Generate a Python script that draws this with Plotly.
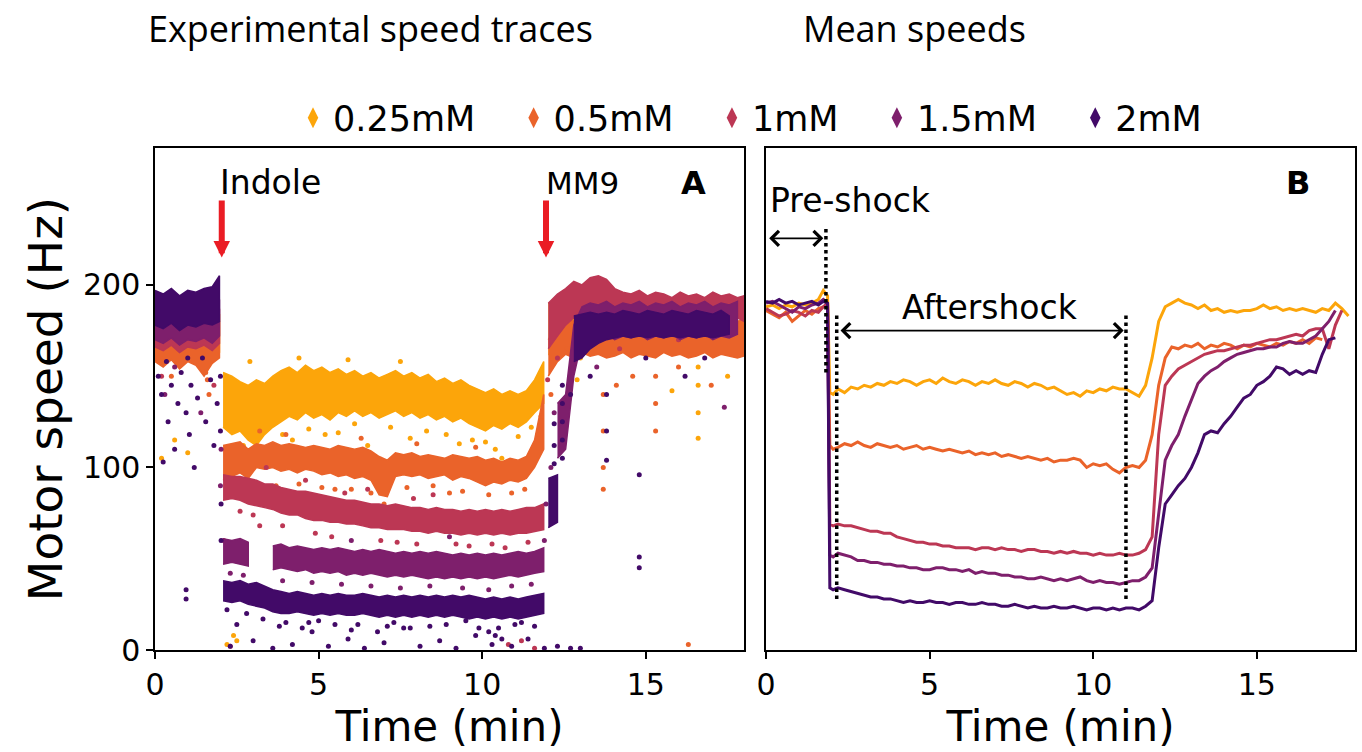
import plotly.graph_objects as go

# ---------------- data ----------------
SERIES = ["0.25mM", "0.5mM", "1mM", "1.5mM", "2mM"]
COLORS = ["#fca50a", "#ea632a", "#bc3754", "#7e1f6c", "#420a68"]

# Panel A: band envelopes, three time segments
TA_PRE = [0.0, 0.25, 0.5, 0.75, 1.0, 1.25, 1.5, 1.75, 1.97]
TA_SHOCK = [2.08, 2.35, 2.6, 2.85, 3.1, 3.35, 3.6, 3.85, 4.1, 4.35, 4.6, 4.85, 5.1, 5.35,
            5.6, 5.85, 6.1, 6.35, 6.6, 6.85, 7.1, 7.35, 7.6, 7.85, 8.1, 8.35, 8.6, 8.85,
            9.1, 9.35, 9.6, 9.85, 10.1, 10.35, 10.6, 10.85, 11.1, 11.35, 11.6, 11.88]
TA_REC = [12.02, 12.3, 12.55, 12.8, 13.05, 13.3, 13.55, 13.8, 14.05, 14.3, 14.55, 14.8,
          15.05, 15.3, 15.55, 15.8, 16.05, 16.3, 16.55, 16.8, 17.05, 17.3, 17.55, 17.8, 18.0]

A025_PRE_HI = [182, 180, 183, 179, 182, 180, 183, 181, 184]
A025_PRE_LO = [162, 160, 163, 158, 161, 160, 162, 159, 163]
A025_SHOCK_HI = [152, 150, 147, 145, 148, 146, 150, 153, 155, 152, 156, 153, 155, 152, 154, 151, 153, 150, 152, 149,
                 151, 153, 150, 152, 149, 151, 147, 149, 146, 148, 145, 143, 141, 143, 140, 142, 140, 142, 148, 158]
A025_SHOCK_LO = [122, 118, 120, 115, 112, 118, 122, 125, 128, 126, 130, 127, 129, 126, 130, 128, 131, 128, 130, 127,
                 129, 131, 128, 130, 127, 129, 126, 128, 125, 127, 124, 122, 120, 123, 121, 124, 122, 125, 130, 135]
A025_REC_HI = [190, 188, 186, 183, 182, 184, 181, 183, 180, 182, 179, 181, 178, 180, 182, 179, 181, 178, 180, 182,
               179, 181, 183, 180, 181]
A025_REC_LO = [162, 160, 163, 165, 166, 164, 167, 165, 166, 164, 167, 165, 166, 164, 167, 165, 166, 164, 167, 165,
               166, 164, 167, 165, 166]

A05_PRE_HI = [178, 176, 179, 175, 178, 177, 179, 176, 180]
A05_PRE_LO = [158, 155, 159, 154, 158, 156, 150, 157, 160]
A05_SHOCK_HI = [112, 113, 114, 110, 113, 112, 114, 112, 113, 112, 111, 112, 111, 110, 112, 111, 110, 111, 109, 106,
                104, 108, 107, 108, 106, 107, 106, 105, 107, 106, 105, 106, 104, 105, 103, 105, 104, 106, 115, 140]
A05_SHOCK_LO = [93, 95, 97, 94, 100, 99, 100, 98, 99, 97, 99, 98, 96, 97, 95, 96, 94, 95, 93, 85,
                84, 95, 96, 95, 96, 94, 95, 96, 93, 95, 94, 92, 90, 92, 91, 93, 92, 94, 100, 110]
A05_REC_HI = [170, 178, 182, 180, 183, 181, 184, 182, 180, 183, 181, 184, 182, 180, 183, 181, 184, 182, 180, 183,
              181, 184, 182, 180, 181]
A05_REC_LO = [150, 158, 162, 160, 163, 161, 162, 160, 161, 163, 160, 162, 161, 160, 163, 161, 162, 160, 161, 163,
              160, 162, 161, 160, 161]

A1_PRE_HI = [185, 183, 186, 182, 185, 184, 186, 183, 187]
A1_PRE_LO = [166, 164, 167, 163, 166, 165, 167, 164, 168]
A1_SHOCK_HI = [96, 95, 95, 94, 93, 91, 91, 89, 88, 87, 87, 86, 85, 84, 83, 82, 82, 81, 80, 80,
               79, 80, 79, 78, 78, 77, 78, 77, 77, 76, 77, 76, 77, 76, 77, 76, 77, 78, 78, 80]
A1_SHOCK_LO = [82, 83, 82, 80, 79, 78, 77, 75, 74, 74, 72, 71, 71, 70, 70, 69, 69, 68, 67, 67,
               66, 66, 66, 65, 65, 64, 65, 64, 64, 63, 64, 63, 64, 63, 64, 63, 64, 64, 65, 66]
A1_REC_HI = [190, 195, 198, 202, 200, 204, 205, 203, 198, 196, 195, 197, 194, 196, 195, 193, 196, 194, 195, 193,
             196, 194, 195, 193, 194]
A1_REC_LO = [165, 172, 178, 182, 180, 183, 184, 182, 180, 181, 180, 182, 180, 181, 180, 182, 180, 181, 180, 182,
             180, 181, 180, 182, 180]

A15_PRE_HI = [190, 188, 191, 187, 190, 189, 191, 188, 192]
A15_PRE_LO = [170, 168, 171, 167, 170, 169, 171, 168, 172]
A15_SHOCK_HI = [61, 60, 61, 59, None, None, 57, 58, 56, 57, 56, 55, 56, 55, 56, 55, 54, 55, 54, 55,
                54, 53, 54, 53, 54, 53, 54, 53, 52, 53, 52, 53, 52, 53, 52, 53, 54, 53, 54, 56]
A15_SHOCK_LO = [47, 48, 47, 46, None, None, 44, 45, 44, 43, 44, 42, 43, 42, 43, 41, 42, 41, 42, 41,
                40, 41, 40, 41, 40, 39, 40, 39, 40, 39, 40, 39, 40, 39, 40, 41, 40, 41, 42, 43]
A15_REC_HI = [None, 135, 140, 178, 188, 190, 189, 191, 188, 190, 189, 191, 188, 190, 189, 191, 188, 190, 189, 191,
              188, 190, 189, 191, None]
A15_REC_LO = [None, 105, 110, 150, 170, 172, 171, 173, 170, 172, 171, 173, 170, 172, 171, 173, 170, 172, 171, 173,
              170, 172, 171, 173, None]

A2_PRE_HI = [197, 195, 198, 194, 197, 196, 198, 199, 205]
A2_PRE_LO = [178, 176, 179, 175, 178, 177, 179, 178, 180]
A2_SHOCK_HI = [38, 37, 38, 36, 37, 35, 33, 32, 31, 32, 31, 30, 31, 30, 31, 30, 30, 31, 30, 29,
               30, 29, 30, 29, 30, 29, 30, 29, 30, 29, 30, 29, 28, 29, 28, 29, 28, 29, 30, 31]
A2_SHOCK_LO = [27, 26, 27, 25, 24, 23, 21, 20, 20, 21, 20, 19, 20, 19, 20, 19, 19, 20, 19, 18,
               19, 18, 19, 18, 19, 18, 19, 18, 19, 18, 17, 18, 17, 18, 17, 18, 17, 18, 19, 20]
A2_REC_HI = [94, 96, None, 183, 184, 185, 184, 185, 184, 186, 185, 184, 186, 185, 184, 186, 185, 184, 186, 185,
             184, 186, 183, None, None]
A2_REC_LO = [67, 70, None, 158, 160, 165, 168, 170, 171, 172, 171, 172, 171, 172, 171, 172, 171, 172, 171, 172,
             171, 172, 173, None, None]

# Panel A: scattered single points (time, speed)
OUT025_T = [0.2, 0.6, 1.0, 2.2, 2.5, 2.4, 3.0, 3.5, 4.2, 5.2, 6.5, 7.8, 9.3, 10.4, 10.6, 11.5,
            16.6, 16.6, 16.6, 16.6, 15.8, 13.0, 12.9, 17.5,
            2.7, 3.3, 3.9, 4.7, 5.6, 6.1, 7.2, 8.3, 8.9, 9.7, 10.1, 11.1, 2.9, 4.4, 5.9, 7.5]
OUT025_V = [105, 115, 108, 3, 5, 8, 110, 108, 115, 118, 112, 116, 113, 110, 105, 122,
            116, 130, 145, 155, 142, 160, 148, 150,
            112, 104, 118, 121, 119, 124, 122, 120, 118, 115, 114, 117, 158, 160, 159, 158]
OUT05_T = [1.6, 1.65, 1.55, 0.5, 2.4, 3.2, 5.5, 7.0, 9.0, 11.7, 11.8, 12.1, 13.7, 13.7, 13.7, 13.7,
           15.3, 15.3, 15.3, 14.6, 16.0, 17.0, 16.3, 12.6, 14.1,
           2.9, 3.7, 4.4, 5.1, 6.0, 6.6, 7.7, 8.5, 9.4, 10.2, 10.9, 11.3, 4.0, 6.3, 8.0, 9.8]
OUT05_V = [148, 140, 152, 150, 85, 120, 88, 80, 86, 118, 128, 140, 88, 100, 120, 140,
           120, 135, 150, 150, 155, 145, 3, 165, 145,
           88, 90, 91, 89, 88, 86, 89, 90, 87, 85, 86, 88, 118, 116, 113, 111]
OUT1_T = [2.1, 3.2, 3.4, 0.2, 1.8, 12.0, 12.3, 14.2, 15.3, 16.0, 11.2, 10.8, 2.3, 11.6, 8.5, 6.5, 4.6, 9.2,
          2.6, 3.0, 3.9, 4.9, 5.4, 6.9, 7.4, 8.0, 9.6, 10.3, 10.7, 11.4, 5.8, 7.9]
OUT1_V = [60, 68, 100, 150, 145, 148, 160, 165, 175, 170, 5, 3, 2, 1, 85, 88, 93, 58,
          76, 74, 68, 64, 62, 60, 59, 58, 57, 58, 56, 59, 86, 83]
OUT15_T = [0.3, 0.6, 1.4, 2.0, 2.02, 11.9, 11.95, 12.1, 12.2, 13.5, 17.4, 4.5, 6.0, 9.0,
           2.3, 2.7, 3.9, 4.8, 5.7, 6.6, 7.5, 8.4, 9.4, 10.2, 10.9, 11.5]
OUT15_V = [140, 155, 130, 90, 110, 60, 80, 100, 130, 155, 133, 30, 60, 62,
           42, 41, 38, 37, 36, 35, 34, 35, 34, 33, 35, 36]
OUT2_T = [0.1, 0.2, 0.35, 0.4, 0.5, 0.6, 0.7, 0.8, 0.95, 1.05, 1.1, 1.2, 1.3, 1.45, 1.55, 1.7, 1.8, 1.9,
          0.25, 1.0, 0.95, 0.95,
          2.3, 3.0, 3.6, 4.2, 4.8, 5.3, 5.9, 6.4, 7.0, 7.6, 8.1, 8.7, 9.2, 9.8, 10.3, 10.9, 11.4, 11.9,
          12.3, 12.7, 13.0,
          2.5, 4.0, 4.5, 5.0, 6.2, 6.8, 7.3, 8.4, 9.5, 10.5, 11.0, 10.4, 10.6,
          2.0, 2.0, 2.02, 2.02,
          12.45, 12.45, 12.45, 12.45, 12.45, 12.2, 12.2, 12.2, 13.8, 13.8, 13.8, 14.8, 14.8, 14.8,
          16.2, 16.8, 13.3, 15.0, 12.7,
          3.3, 3.8, 4.7, 5.5, 6.0, 7.1, 7.8, 8.9, 9.9, 10.2, 11.2, 11.6, 2.2, 2.8]
OUT2_V = [150, 140, 158, 125, 145, 110, 135, 152, 130, 118, 145, 100, 138, 160, 125, 148, 112, 135,
          103, 160, 33, 28,
          2, 5, 1, 3, 10, 2, 6, 1, 4, 12, 2, 5, 1, 8, 3, 2, 6, 1,
          2, 1, 1,
          14, 15, 12, 16, 14, 10, 15, 13, 16, 12, 14, 8, 6,
          150, 120, 80, 60,
          105, 115, 125, 135, 145, 124, 112, 102, 104, 120, 140, 96, 51, 45,
          150, 160, 150, 160, 140,
          17, 13, 15, 14, 11, 13, 12, 14, 12, 10, 15, 13, 22, 20]

# Panel B: mean speeds
TB = [0.0, 0.2, 0.4, 0.6, 0.8, 1.0, 1.2, 1.4, 1.6, 1.75, 1.88,
      1.95, 2.05, 2.2, 2.4, 2.6, 2.8, 3.0, 3.2, 3.4, 3.6, 3.8, 4.0, 4.2, 4.4, 4.6, 4.8, 5.0,
      5.2, 5.4, 5.6, 5.8, 6.0, 6.2, 6.4, 6.6, 6.8, 7.0, 7.2, 7.4, 7.6, 7.8, 8.0, 8.2, 8.4,
      8.6, 8.8, 9.0, 9.2, 9.4, 9.6, 9.8, 10.0, 10.2, 10.4, 10.6, 10.8, 11.0, 11.2, 11.4, 11.6, 11.8,
      12.0, 12.2, 12.4, 12.6, 12.8, 13.0, 13.2, 13.4, 13.6, 13.8, 14.0, 14.2, 14.4, 14.6, 14.8,
      15.0, 15.2, 15.4, 15.6, 15.8, 16.0, 16.2, 16.4, 16.6, 16.8, 17.0, 17.2, 17.4, 17.6, 17.8]

B025 = [188, 189, 187, 189, 188, 190, 189, 190, 192, 197, 194,
        141, 140, 143, 141, 144, 143, 145, 144, 146, 145, 147, 146, 148, 147, 145, 147, 148,
        146, 149, 147, 146, 148, 147, 145, 147, 146, 148, 146, 145, 147, 146, 144, 146, 145,
        143, 144, 142, 140, 141, 139, 142, 141, 143, 142, 144, 143, 143, 141, 139, 145, 160,
        180, 188, 190, 192, 190, 189, 187, 189, 186, 187, 185, 186, 185, 186, 186,
        187, 189, 187, 188, 186, 187, 186, 187, 186, 185, 187, 186, 190, 187, 183]
B05 = [186, 184, 182, 185, 180, 183, 186, 184, 187, 188, 189,
       112, 110, 111, 113, 112, 114, 112, 111, 113, 112, 111, 112, 110, 111, 112, 110, 111,
       110, 109, 110, 109, 108, 109, 107, 108, 107, 108, 106, 107, 106, 105, 106, 105, 104,
       105, 103, 104, 104, 105, 104, 100, 102, 101, 102, 99, 97, 100, 101, 100, 104, 118,
       145, 160, 166, 165, 167, 166, 168, 165, 167, 166, 168, 167, 165, 167, 166,
       168, 167, 166, 168, 167, 169, 168, 170, 168, 171, 170, None, None, None, None]
B1 = [187, 185, 183, 184, 186, 185, 183, 186, 185, 188, 190,
      69, 68, 69, 68, 68, 67, 66, 65, 65, 64, 64, 62, 61, 60, 59, 59, 58,
      58, 57, 57, 56, 56, 56, 55, 56, 56, 55, 56, 55, 55, 54, 55, 55, 54,
      54, 53, 54, 53, 54, 53, 53, 52, 53, 52, 52, 53, 52, 52, 53, 55, 62,
      118, 145, 150, 154, 156, 158, 160, 162, 163, 164, 164, 165, 166, 167, 167,
      168, 169, 170, 170, 171, 172, 173, 172, 175, 176, 176, 165, 178, 186, None]
B15 = [190, 191, 189, 187, 185, 188, 187, 189, 190, 192, 190,
       52, 51, 53, 52, 51, 49, 49, 48, 48, 47, 47, 46, 46, 45, 45, 44, 44,
       45, 45, 44, 44, 43, 44, 42, 43, 42, 42, 41, 41, 40, 40, 39, 39, 40,
       39, 38, 39, 38, 39, 40, 38, 37, 38, 37, 37, 36, 37, 38, 38, 40, 45,
       75, 104, 112, 118, 128, 137, 146, 150, 153, 155, 158, 160, 162, 163, 164,
       165, 165, 166, 166, 168, 169, 168, 168, 170, 172, 176, 180, 186, None, None]
B2 = [191, 190, 192, 190, 191, 189, 190, 191, 189, 191, 190,
      34, 33, 34, 33, 32, 31, 30, 29, 29, 28, 28, 27, 26, 27, 26, 26, 27,
      26, 26, 25, 26, 26, 25, 25, 26, 25, 25, 24, 24, 25, 24, 23, 24, 23,
      23, 24, 23, 23, 24, 23, 22, 23, 23, 22, 23, 22, 23, 23, 22, 24, 27,
      56, 80, 85, 90, 94, 100, 108, 118, 120, 119, 124, 128, 133, 138, 140,
      145, 147, 150, 155, 154, 151, 153, 151, 153, 152, 162, 170, 171, None, None]

X_TICKS = [0, 5, 10, 15]
Y_TICKS = [0, 100, 200]
INDOLE_T = 2.04
MM9_T = 11.95
PRESHOCK_END = 1.83
AFTER_START = 2.16
AFTER_END = 11.0

# ---------------- helpers ----------------
A_BANDS = [
    [(A025_PRE_HI, A025_PRE_LO), (A025_SHOCK_HI, A025_SHOCK_LO), (A025_REC_HI, A025_REC_LO)],
    [(A05_PRE_HI, A05_PRE_LO), (A05_SHOCK_HI, A05_SHOCK_LO), (A05_REC_HI, A05_REC_LO)],
    [(A1_PRE_HI, A1_PRE_LO), (A1_SHOCK_HI, A1_SHOCK_LO), (A1_REC_HI, A1_REC_LO)],
    [(A15_PRE_HI, A15_PRE_LO), (A15_SHOCK_HI, A15_SHOCK_LO), (A15_REC_HI, A15_REC_LO)],
    [(A2_PRE_HI, A2_PRE_LO), (A2_SHOCK_HI, A2_SHOCK_LO), (A2_REC_HI, A2_REC_LO)],
]
A_TIMES = [TA_PRE, TA_SHOCK, TA_REC]
A_OUT = [(OUT025_T, OUT025_V), (OUT05_T, OUT05_V), (OUT1_T, OUT1_V), (OUT15_T, OUT15_V), (OUT2_T, OUT2_V)]
B_LINES = [B025, B05, B1, B15, B2]


def band_polygon(segments):
    px, py = [], []
    for t, (hi, lo) in zip(A_TIMES, segments):
        run = []
        for ti, h, l in list(zip(t, hi, lo)) + [(None, None, None)]:
            if h is None:
                if run:
                    ts = [r[0] for r in run]
                    hs = [r[1] for r in run]
                    ls = [r[2] for r in run]
                    px += ts + ts[::-1] + [None]
                    py += hs + ls[::-1] + [None]
                run = []
            else:
                run.append((ti, h, l))
    return px, py


fig = go.Figure()
FONT = "DejaVu Sans"

for name, col, segs, (ot, ov) in zip(SERIES, COLORS, A_BANDS, A_OUT):
    px, py = band_polygon(segs)
    fig.add_trace(go.Scatter(x=px, y=py, fill="toself", fillcolor=col, mode="lines",
                             line=dict(color=col, width=1.5), xaxis="x", yaxis="y",
                             showlegend=False, hoverinfo="skip"))
    fig.add_trace(go.Scatter(x=ot, y=ov, mode="markers",
                             marker=dict(color=col, size=5), xaxis="x", yaxis="y",
                             showlegend=False, hoverinfo="skip"))

for name, col, vals in zip(SERIES, COLORS, B_LINES):
    fig.add_trace(go.Scatter(x=TB, y=vals, mode="lines", line=dict(color=col, width=3),
                             xaxis="x2", yaxis="y2", showlegend=False, connectgaps=False))

NBSP = "\u00a0" * 3
for name, col in zip(SERIES, COLORS):
    fig.add_trace(go.Scatter(x=[None], y=[None], mode="markers", name=name + NBSP,
                             marker=dict(color=col, size=15, symbol="diamond-tall"),
                             xaxis="x", yaxis="y"))

axis_common = dict(showline=True, mirror=True, linecolor="black", linewidth=1.5,
                   showgrid=False, zeroline=False, ticks="outside", ticklen=7, tickwidth=1.5,
                   tickcolor="black", tickfont=dict(family=FONT, size=30, color="black"))

fig.update_layout(
    width=1362, height=752, plot_bgcolor="white", paper_bgcolor="white",
    margin=dict(l=155, r=5, t=148, b=102),
    xaxis=dict(domain=[0, 0.4908], range=[0, 18], tickvals=X_TICKS,
               title=dict(text="Time (min)", font=dict(family=FONT, size=42, color="black"), standoff=7),
               **axis_common),
    yaxis=dict(range=[0, 275], tickvals=Y_TICKS, anchor="x",
               title=dict(text="Motor speed (Hz)", font=dict(family=FONT, size=47, color="black"), standoff=6),
               **axis_common),
    xaxis2=dict(domain=[0.5092, 1], range=[0, 18], tickvals=X_TICKS, anchor="y2",
                title=dict(text="Time (min)", font=dict(family=FONT, size=42, color="black"), standoff=7),
                **axis_common),
    yaxis2=dict(range=[0, 275], anchor="x2", showline=True, mirror=True, linecolor="black",
                linewidth=1.5, showgrid=False, zeroline=False, showticklabels=False, ticks=""),
    legend=dict(orientation="h", x=0.51, xanchor="center", y=1.06, yanchor="middle",
                font=dict(family=FONT, size=35, color="black"), itemwidth=30,
                bgcolor="rgba(0,0,0,0)"),
    showlegend=True,
)

ann = []
ann.append(dict(text="Experimental speed traces", xref="paper", yref="paper", x=0.1797, y=1.29,
                xanchor="center", yanchor="top",
                showarrow=False, font=dict(family="Open Sans", size=36, color="black")))
ann.append(dict(text="Mean speeds", xref="paper", yref="paper", x=0.633, y=1.29,
                xanchor="center", yanchor="top",
                showarrow=False, font=dict(family="Open Sans", size=36, color="black")))
ann.append(dict(text="Indole", x=1.92, y=256, xref="x", yref="y", xanchor="left", showarrow=False,
                font=dict(family=FONT, size=33, color="black")))
ann.append(dict(text="MM9", x=11.88, y=256, xref="x", yref="y", xanchor="left", showarrow=False,
                font=dict(family=FONT, size=31, color="black")))
ann.append(dict(text="<b>A</b>", x=16.45, y=256, xref="x", yref="y", showarrow=False,
                font=dict(family=FONT, size=32, color="black")))
ann.append(dict(text="<b>B</b>", x=16.25, y=256, xref="x2", yref="y2", showarrow=False,
                font=dict(family=FONT, size=32, color="black")))
for tx in (INDOLE_T, MM9_T):
    ann.append(dict(x=tx, y=215, ax=tx, ay=247, xref="x", yref="y", axref="x", ayref="y", text="",
                    showarrow=True, arrowhead=2, arrowsize=0.55, arrowwidth=6, arrowcolor="#ea1c24"))
ann.append(dict(text="Pre-shock", x=0.05, y=246.5, xref="x2", yref="y2", xanchor="left", showarrow=False,
                font=dict(family=FONT, size=33, color="black")))
ann.append(dict(text="Aftershock", x=6.83, y=187.5, xref="x2", yref="y2", showarrow=False,
                font=dict(family=FONT, size=33, color="black")))
ann.append(dict(x=PRESHOCK_END - 0.08, y=225.5, ax=0.05, ay=225.5, xref="x2", yref="y2", axref="x2", ayref="y2",
                text="", showarrow=True, arrowhead=4, startarrowhead=4, arrowside="end+start",
                arrowsize=1.6, arrowwidth=1.8, arrowcolor="black"))
ann.append(dict(x=AFTER_END - 0.07, y=175, ax=AFTER_START + 0.07, ay=175, xref="x2", yref="y2", axref="x2", ayref="y2",
                text="", showarrow=True, arrowhead=4, startarrowhead=4, arrowside="end+start",
                arrowsize=1.6, arrowwidth=1.8, arrowcolor="black"))
fig.update_layout(annotations=ann)

shapes = [
    dict(type="line", xref="x2", yref="y2", x0=PRESHOCK_END, x1=PRESHOCK_END, y0=152, y1=232,
         line=dict(color="black", width=3.5, dash="dot")),
    dict(type="line", xref="x2", yref="y2", x0=AFTER_START, x1=AFTER_START, y0=28, y1=185,
         line=dict(color="black", width=3.5, dash="dot")),
    dict(type="line", xref="x2", yref="y2", x0=AFTER_END, x1=AFTER_END, y0=28, y1=185,
         line=dict(color="black", width=3.5, dash="dot")),
]
fig.update_layout(shapes=shapes)

fig.write_html("out.html")
